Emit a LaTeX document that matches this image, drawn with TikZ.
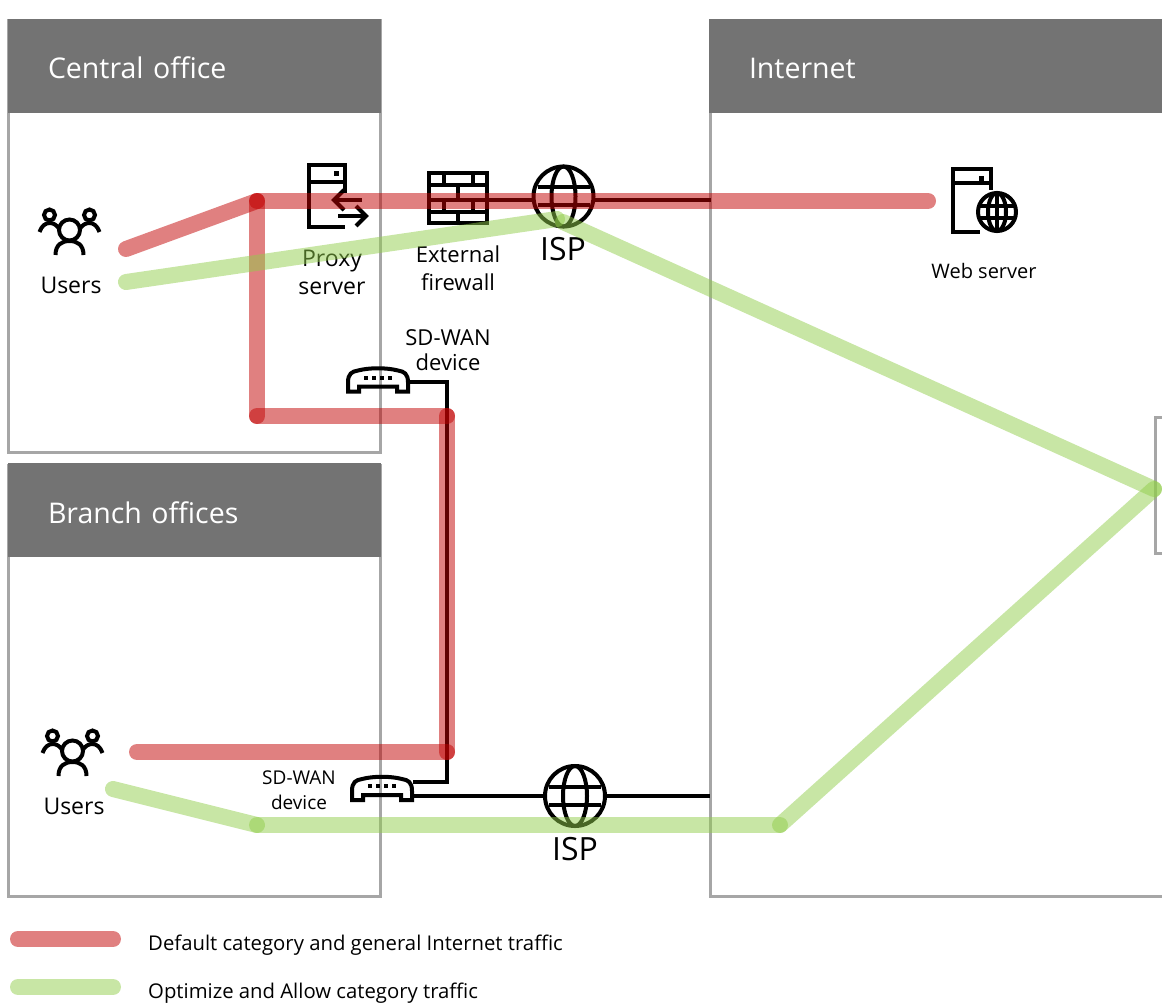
\documentclass[tikz,border=0pt]{standalone}
\usepackage{fontspec}
\setmainfont{Open Sans}
\definecolor{headgray}{HTML}{737373}
\definecolor{framegray}{HTML}{A6A6A6}
\definecolor{redtraffic}{HTML}{C10101}
\definecolor{greentraffic}{HTML}{91CD4B}
\tikzset{
  officebox/.style={draw=framegray,line width=3pt,anchor=north west,inner sep=0pt,outer sep=0pt},
  headbox/.style={fill=headgray,text=white,anchor=north west,minimum height=94pt,inner xsep=40pt,inner ysep=0pt,outer sep=0pt,text height=26pt,text depth=0pt,font=\fontsize{28.5}{34}\selectfont},
  lab/.style={align=center,inner sep=0pt,font=\fontsize{23}{28}\selectfont},
  smalllab/.style={align=center,inner sep=0pt,font=\fontsize{20}{25}\selectfont},
  isplab/.style={inner sep=0pt,font=\fontsize{32}{36}\selectfont},
  legendlab/.style={anchor=west,inner sep=0pt,font=\fontsize{20.3}{25}\selectfont},
  icon/.style={line width=4pt},
  wire/.style={line width=3.5pt},
  globenode/.style={circle,draw,line width=4pt,minimum size=60pt,inner sep=0pt,outer sep=0pt},
  iconspot/.style={inner sep=0pt,outer sep=0pt},
  redpath/.style={line width=16pt,line cap=round,draw=redtraffic,opacity=0.5},
  greenpath/.style={line width=16pt,line cap=round,draw=greentraffic,opacity=0.5},
  usersicon/.pic={
    \draw[icon] (0,0) circle (10.5);
    \draw[icon] (-14,25) .. controls (-14,15) and (-8,11) .. (0,11) .. controls (8,11) and (14,15) .. (14,25);
    \draw[icon] (-20,-15) circle (5.5);
    \draw[icon] (20,-15) circle (5.5);
    \draw[icon] (-30,2) .. controls (-28,-4) and (-24,-7) .. (-20,-7) .. controls (-16,-7) and (-13,-5) .. (-11,-2);
    \draw[icon] (30,2) .. controls (28,-4) and (24,-7) .. (20,-7) .. controls (16,-7) and (13,-5) .. (11,-2);
  },
  routericon/.pic={
    \draw[icon,line join=miter] (-30,3) .. controls (-30,-6) and (-26,-8) .. (-20,-9) .. controls (-8,-12) and (8,-12) .. (20,-9) .. controls (26,-8) and (30,-6) .. (30,3) -- (30,12) -- (19,12) -- (19,7) -- (-19,7) -- (-19,12) -- (-30,12) -- cycle;
    \fill (-14,-4) rectangle ++(4,4);
    \fill (-6,-4) rectangle ++(4,4);
    \fill (2,-4) rectangle ++(4,4);
    \fill (10,-4) rectangle ++(4,4);
  },
  globelines/.pic={
    \draw[icon] (0,0) ellipse (12 and 30);
    \draw[icon] (-26,-9) -- (26,-9);
    \draw[icon] (-26,9) -- (26,9);
  },
}
\begin{document}
\begin{tikzpicture}[x=1pt,y=-1pt]
\useasboundingbox (0,0) rectangle (1162,1003);
% offices
\node[officebox,minimum width=372pt,minimum height=431pt] (central) at (8,21) {};
\node[officebox,minimum width=372pt,minimum height=431pt] (branch) at (8,465) {};
\draw[draw=framegray,line width=3pt] (710,21) -- (710,896) -- (1162,896);
\draw[draw=framegray,line width=3pt] (1162,417) -- (1155,417) -- (1155,553) -- (1162,553);
\node[headbox,text width=293pt] (centralhead) at (8,19) {Central office};
\node[headbox,text width=293pt] (branchhead) at (8,463) {Branch offices};
\node[headbox,text width=373pt] (nethead) at (709,19) {Internet};
% central office
\pic at (69.5,230) {usersicon};
\node[lab] (usersa) at (71,285) {Users};
\node[lab] (proxylab) at (332,272) {Proxy\\server};
\node[lab,font=\fontsize{22}{28}\selectfont] (fwalllab) at (458,268) {External\\firewall};
\node[isplab] (ispalab) at (563,249) {ISP};
\node[smalllab,font=\fontsize{22}{25}\selectfont] (wanalab) at (448,350) {SD-WAN\\device};
% proxy
\draw[icon] (345,193) -- (345,165) -- (309,165) -- (309,227) -- (345,227);
\draw[icon] (309,182) -- (345,182);
\fill (333.5,171.5) rectangle ++(5,5);
\draw[icon] (362,200) -- (334,200);
\draw[icon] (344,190) -- (334,200) -- (344,210);
\draw[icon] (338,216) -- (366,216);
\draw[icon] (356,206) -- (366,216) -- (356,226);
% firewall
\node[draw,line width=4pt,minimum width=58pt,minimum height=50pt,inner sep=0pt,outer sep=0pt] (fwall) at (458,198) {};
\draw[icon] (429,185) -- ++(58,0);
\draw[icon] (429,200) -- ++(58,0);
\draw[icon] (429,212) -- ++(58,0);
\draw[icon] (444,173) -- ++(0,12);
\draw[icon] (473,173) -- ++(0,12);
\draw[icon] (458,185) -- ++(0,15);
\draw[icon] (444,200) -- ++(0,12);
\draw[icon] (473,200) -- ++(0,12);
\draw[icon] (458,212) -- ++(0,11);
\node[globenode] (ispa) at (563.5,196.5) {};
\pic at (ispa) {globelines};
\node[iconspot,minimum width=62pt,minimum height=25pt] (routera) at (378,379.5) {};
\pic at (routera) {routericon};
% branch office
\pic at (72.5,751) {usersicon};
\node[lab] (usersb) at (74,806) {Users};
\node[smalllab,font=\fontsize{19}{25}\selectfont] (wanblab) at (299,790.5) {SD-WAN\\device};
\node[iconspot,minimum width=62pt,minimum height=25pt] (routerb) at (382,788) {};
\pic at (routerb) {routericon};
\node[globenode] (ispb) at (575,796) {};
\pic at (ispb) {globelines};
\node[isplab] (ispblab) at (575,849) {ISP};
% web server
\draw[icon] (991,190) -- (991,169) -- (953,169) -- (953,232) -- (980,232);
\draw[icon] (953,183) -- (991,183);
\fill (978.5,176.5) rectangle ++(5,5);
\node[circle,draw,fill=white,line width=4pt,minimum size=38pt,inner sep=0pt,outer sep=0pt] (webglobe) at (997,212) {};
\draw[icon] (webglobe.center) ellipse (9 and 19);
\draw[icon] (997,193) -- ++(0,38);
\draw[icon] (980,206) -- ++(34,0);
\draw[icon] (980,218) -- ++(34,0);
\node[smalllab] (weblab) at (984,271) {Web server};
% black links
\coordinate (ispaout) at (711,200);
\coordinate (ispbout) at (710,796);
\coordinate (wanjointa) at (447,382);
\coordinate (wanjointb) at (447,782);
\draw[wire] (fwall.east |- ispaout) -- (ispa.west |- ispaout);
\draw[wire] (ispa.east |- ispaout) -- (ispaout);
\draw[wire] (routera.east |- wanjointa) -- (wanjointa) -- (wanjointb) -- (routerb.east |- wanjointb);
\draw[wire] (routerb.east |- ispb) -- (ispb.west);
\draw[wire] (ispb.east) -- (ispbout);
% traffic
\coordinate (reda) at (126,249);
\coordinate (redb) at (257,201);
\coordinate (redc) at (928,201);
\coordinate (redd) at (257,416);
\coordinate (rede) at (447,416);
\coordinate (redf) at (447,752);
\coordinate (redg) at (137,752);
\draw[redpath] (reda) -- (redb);
\draw[redpath] (redb) -- (redc);
\draw[redpath] (redb) -- (redd);
\draw[redpath] (redd) -- (rede);
\draw[redpath] (rede) -- (redf);
\draw[redpath] (redf) -- (redg);
\coordinate (greena) at (126,282);
\coordinate (greenb) at (557,219);
\coordinate (greenc) at (563,222);
\coordinate (greend) at (1154,489);
\coordinate (greene) at (780,825);
\coordinate (greenf) at (257,825);
\coordinate (greeng) at (113,789);
\draw[greenpath] (greena) -- (greenb);
\draw[greenpath] (greenc) -- (greend);
\draw[greenpath] (greend) -- (greene);
\draw[greenpath] (greene) -- (greenf);
\draw[greenpath] (greenf) -- (greeng);
% legend
\coordinate (legredl) at (18,939);
\coordinate (legredr) at (113,939);
\coordinate (leggreenl) at (18,987);
\coordinate (leggreenr) at (113,987);
\draw[redpath] (legredl) -- (legredr);
\draw[greenpath] (leggreenl) -- (leggreenr);
\node[legendlab] (legreda) at (148,945) {Default category and general Internet traffic};
\node[legendlab] (leggreena) at (148,993) {Optimize and Allow category traffic};
\end{tikzpicture}
\end{document}
